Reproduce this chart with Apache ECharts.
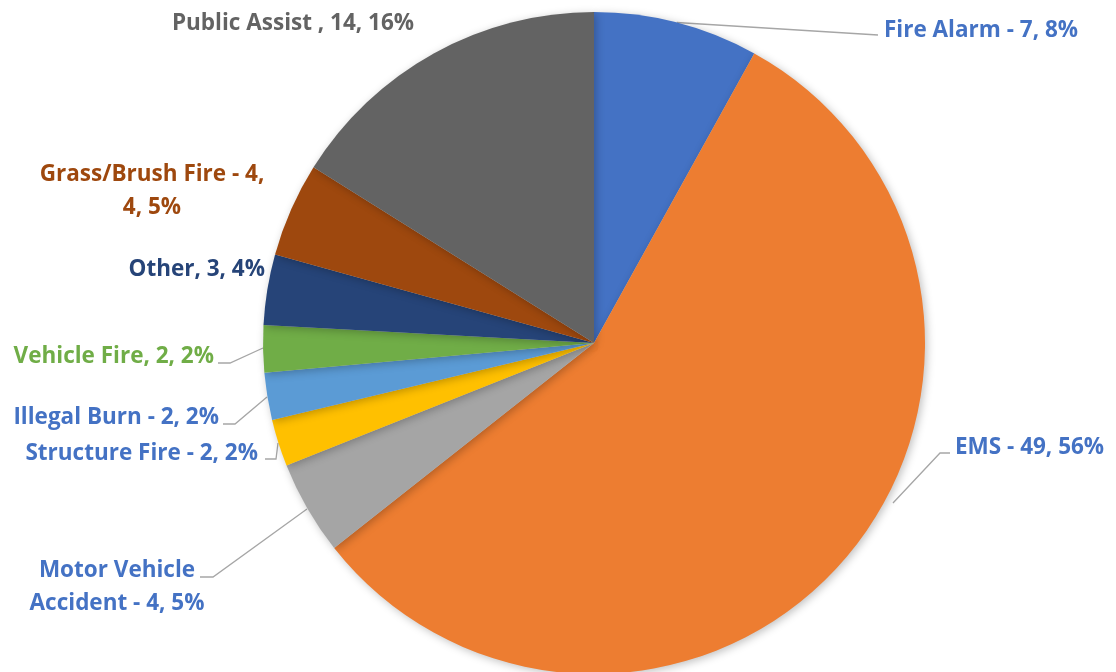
<!DOCTYPE html>
<html>
<head>
<meta charset="utf-8">
<script src="https://cdn.jsdelivr.net/npm/echarts@6/dist/echarts.min.js"></script>
<style>html,body{margin:0;padding:0;background:#fff;}#c{width:1116px;height:672px;}</style>
</head>
<body>
<div id="c"></div>
<script>
const categories = ['Fire Alarm','EMS','Motor Vehicle Accident','Structure Fire','Illegal Burn','Vehicle Fire','Other','Grass/Brush Fire','Public Assist'];
const values = [7, 49, 4, 2, 2, 2, 3, 4, 14];
const percentLabels = ['8%','56%','5%','2%','2%','2%','4%','5%','16%'];
const labelTexts = [
  'Fire Alarm - 7, 8%',
  'EMS - 49, 56%',
  'Motor Vehicle\nAccident - 4, 5%',
  'Structure Fire - 2, 2%',
  'Illegal Burn - 2, 2%',
  'Vehicle Fire, 2, 2%',
  'Other, 3, 4%',
  'Grass/Brush Fire - 4,\n4, 5%',
  'Public Assist , 14, 16%'
];
const sliceColors = ['#4472C4','#ED7D31','#A5A5A5','#FFC000','#5B9BD5','#70AD47','#264478','#9E480E','#636363'];
const labelColors = ['#4472C4','#4472C4','#4472C4','#4472C4','#4472C4','#70AD47','#264478','#9E480E','#636363'];
const showLines = [true, true, true, true, true, true, false, false, false];

// label placement: [x, y, align, linePoints]
const labelPlace = [
  [884, 31, 'left', [null, [878, 35], [878, 35]]],
  [955, 448, 'left', [[893, 503], [940, 453], [950, 453]]],
  [117, 587, 'center', [[307, 509], [213, 577], [200, 577]]],
  [258, 454, 'right', [[278, 443], [276, 459], [265, 459]]],
  [219, 418, 'right', [[267, 397], [235, 424], [223, 424]]],
  [214, 357, 'right', [[263, 348], [230, 363], [218, 363]]],
  [265, 270, 'right', null],
  [152, 191, 'center', null],
  [293, 24, 'center', null]
];

const chart = echarts.init(document.getElementById('c'));
const data = categories.map((c, i) => ({
  name: c,
  value: values[i],
  itemStyle: { color: sliceColors[i] },
  label: { color: labelColors[i] },
  labelLine: { show: showLines[i] }
}));

chart.setOption({
  animation: false,
  series: [{
    type: 'pie',
    center: [594, 343],
    radius: 331,
    startAngle: 90,
    clockwise: true,
    data: data,
    itemStyle: { borderWidth: 0, shadowBlur: 8, shadowColor: 'rgba(0,0,0,0.25)', shadowOffsetX: 2, shadowOffsetY: 2 },
    emphasis: { disabled: true },
    label: {
      show: true,
      position: 'outside',
      overflow: 'none',
      fontFamily: 'Open Sans',
      fontWeight: 'bold',
      fontSize: 22.5,
      lineHeight: 33,
      formatter: p => labelTexts[p.dataIndex]
    },
    labelLine: {
      show: true,
      lineStyle: { color: '#A6A6A6', width: 1.3 }
    },
    labelLayout: function (params) {
      const pl = labelPlace[params.dataIndex];
      const res = { x: pl[0], y: pl[1], align: pl[2], verticalAlign: 'middle' };
      if (pl[3]) {
        const pts = pl[3].map((p, k) => p ? p : params.labelLinePoints[k]);
        res.labelLinePoints = pts;
      }
      return res;
    }
  }]
});
</script>
</body>
</html>
